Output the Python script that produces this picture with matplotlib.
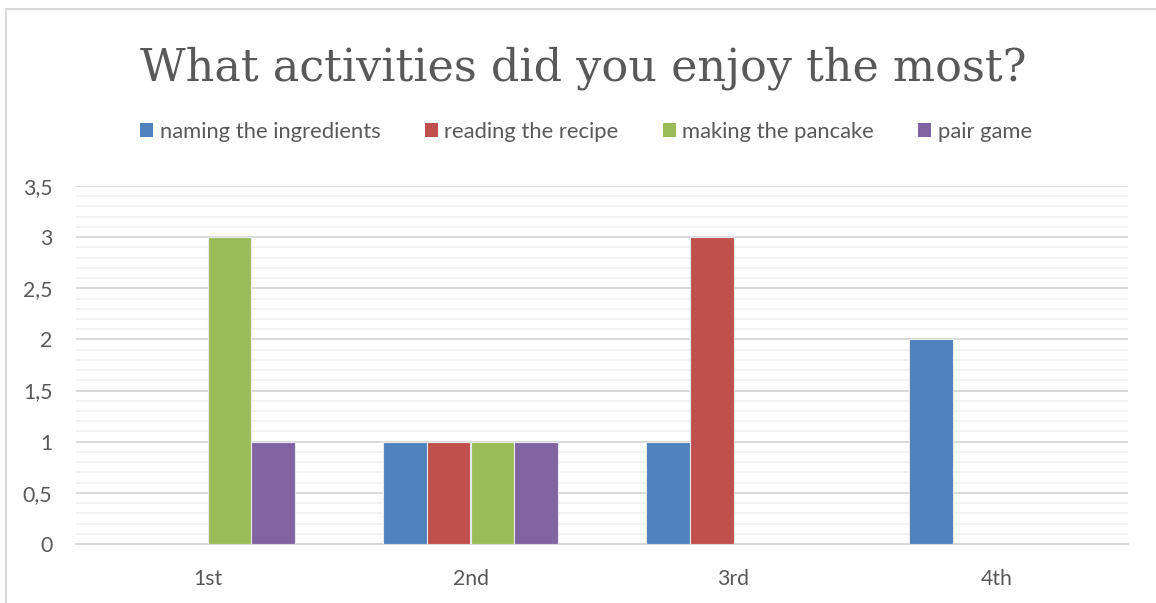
import matplotlib
matplotlib.use("Agg")
import matplotlib.pyplot as plt
import numpy as np
from matplotlib.patches import Rectangle, Patch
from matplotlib.ticker import MultipleLocator, FuncFormatter

# Survey results: how many respondents ranked each activity at each place
categories = ["1st", "2nd", "3rd", "4th"]
series_names = ["naming the ingredients", "reading the recipe", "making the pancake", "pair game"]
naming_the_ingredients = [0, 1, 1, 2]
reading_the_recipe = [0, 1, 3, 0]
making_the_pancake = [3, 1, 0, 0]
pair_game = [1, 1, 0, 0]
colors = ["#4f81bd", "#c0504d", "#9bbb59", "#8064a2"]

series = [naming_the_ingredients, reading_the_recipe, making_the_pancake, pair_game]

text_gray = "#595959"
plt.rcParams["font.family"] = ["Lato", "DejaVu Sans"]

fig = plt.figure(figsize=(11.56, 6.03), dpi=100)

# light frame around the chart area
fig.patches.append(Rectangle((6 / 1156, -0.05), 1.1, 1 - 9 / 603 + 0.05,
                             transform=fig.transFigure, fill=False,
                             edgecolor="#d9d9d9", linewidth=1.5, zorder=0))

ax = fig.add_axes([76 / 1156, 1 - 544 / 603, (1128 - 76) / 1156, (544 - 186) / 603])

x = np.arange(len(categories))
width = 0.166
for k, (vals, name, col) in enumerate(zip(series, series_names, colors)):
    ax.bar(x + (k - 1.5) * width, vals, width, color=col, label=name,
           edgecolor="#e8e8ee", linewidth=0.8, zorder=3)

ax.set_xlim(-0.5, len(categories) - 0.5)
ax.set_ylim(0, 3.5)
ax.yaxis.set_major_locator(MultipleLocator(0.5))
ax.yaxis.set_minor_locator(MultipleLocator(0.1))
ax.yaxis.set_major_formatter(FuncFormatter(lambda v, p: f"{v:g}".replace(".", ",")))
ax.grid(which="major", axis="y", color="#d9d9d9", linewidth=1.4, zorder=0)
ax.grid(which="minor", axis="y", color="#f0f0f0", linewidth=1.2, zorder=0)
ax.set_xticks(x)
ax.set_xticklabels(categories)
for s in ["top", "right", "left"]:
    ax.spines[s].set_visible(False)
ax.spines["bottom"].set_color("#d9d9d9")
ax.spines["bottom"].set_linewidth(1.4)
ax.tick_params(axis="both", which="both", length=0, colors=text_gray, labelsize=15.3)
ax.tick_params(axis="y", pad=17)
ax.tick_params(axis="x", pad=18)

fig.text(583 / 1156, 1 - 80 / 603, "What activities did you enjoy the most?",
         ha="center", va="baseline", fontsize=32, color=text_gray,
         family=["DejaVu Serif"])

handles = [Patch(facecolor=c, edgecolor="none") for c in colors]
leg = fig.legend(handles, series_names, loc="center", bbox_to_anchor=(586 / 1156, 1 - 132 / 603),
                 ncol=4, frameon=False, fontsize=15.8, handlelength=0.6, handleheight=0.6,
                 handletextpad=0.3, columnspacing=2.0, labelcolor=text_gray)

fig.savefig("out.png", dpi=100)
